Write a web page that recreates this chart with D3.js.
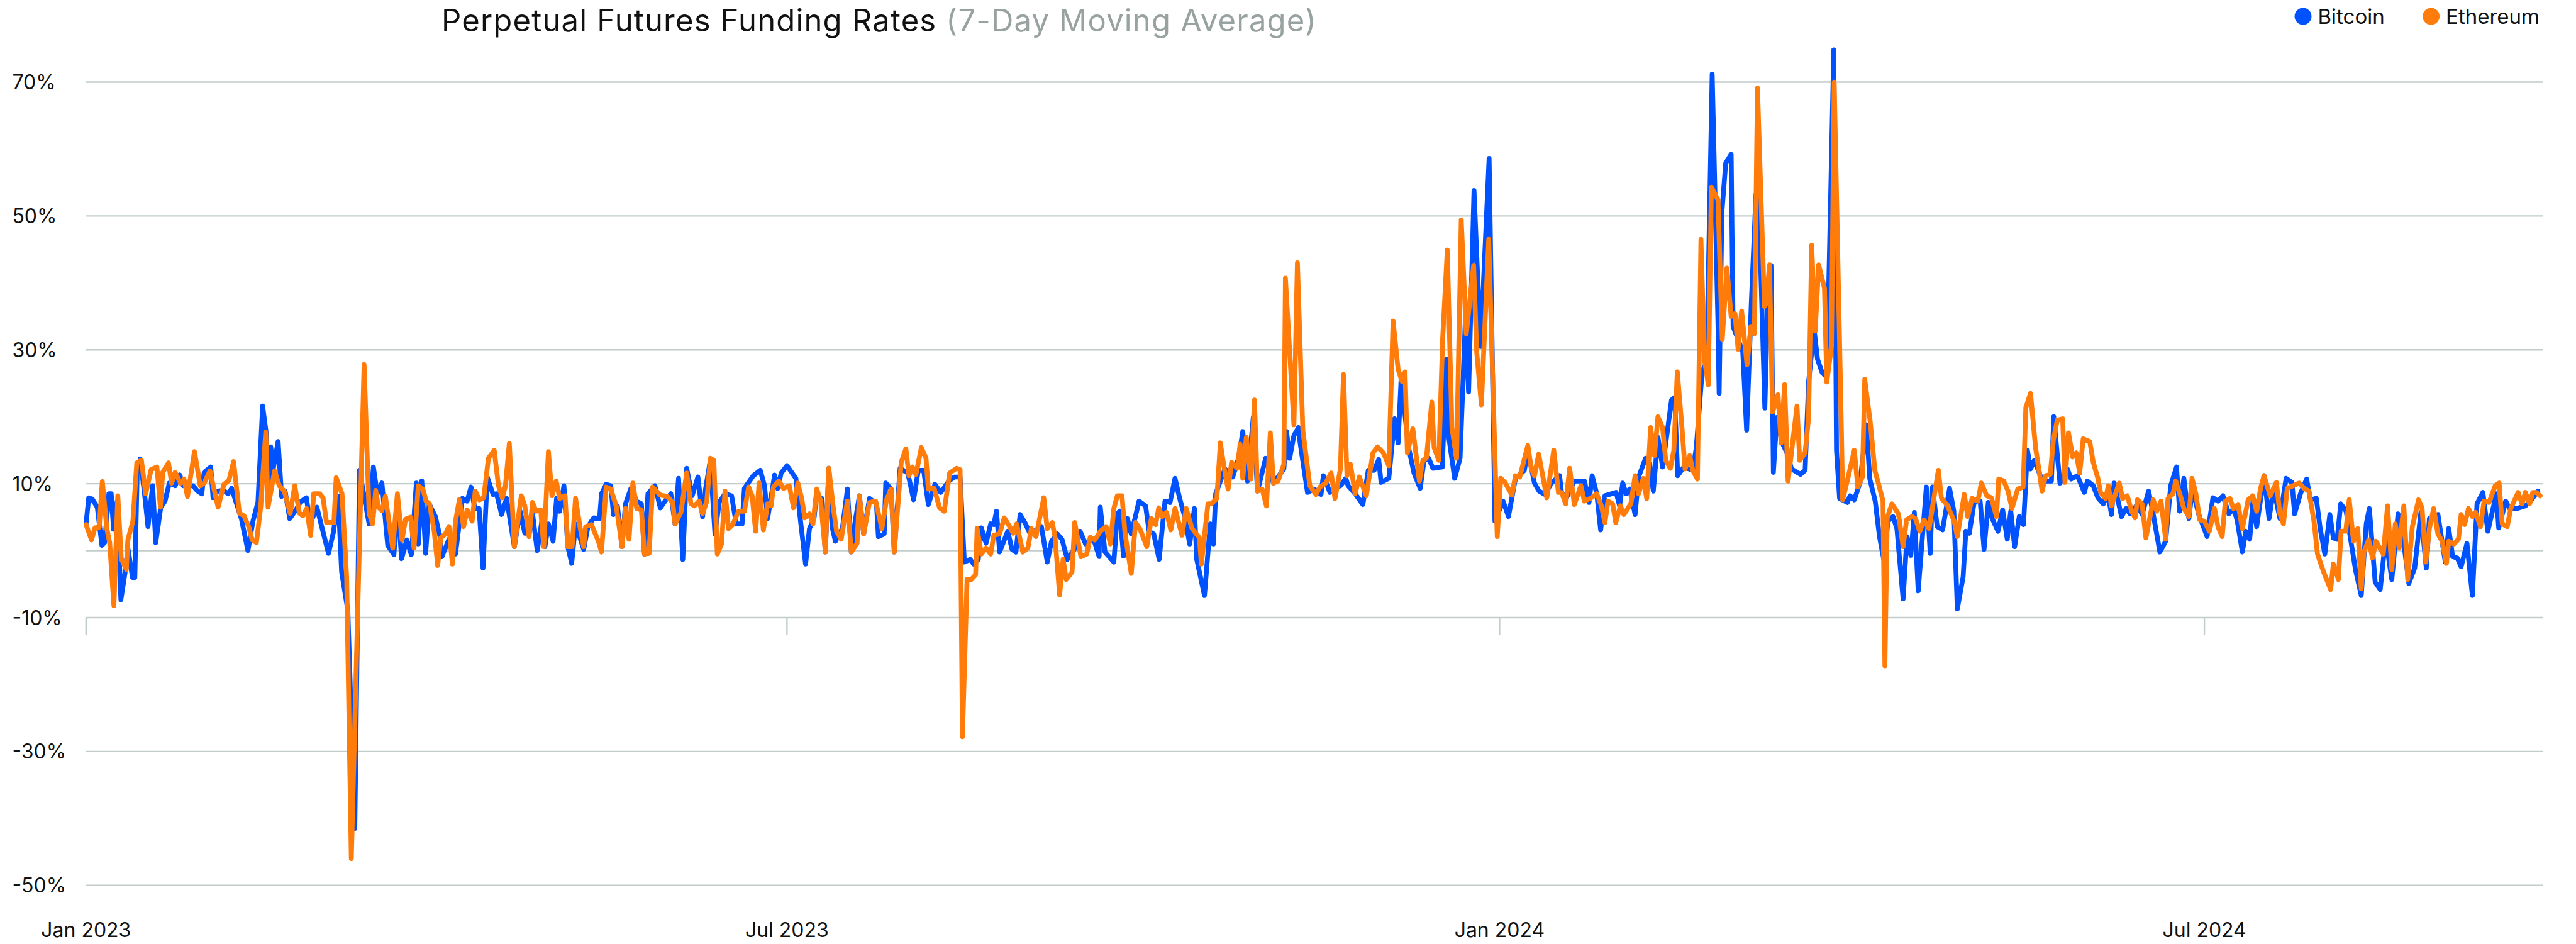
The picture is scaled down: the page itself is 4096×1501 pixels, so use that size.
<!DOCTYPE html>
<html>
<head>
<meta charset="utf-8">
<script src="https://cdn.jsdelivr.net/npm/d3@7"></script>
<style>
  body { margin: 0; background: #fff; }
  svg { display: block; font-family: Inter, "Noto Sans", sans-serif; }
</style>
</head>
<body>
<div id="chart"></div>
<script>
// ---- data ([day since 2023-01-01, rate in %]) ----
const startDate = Date.UTC(2023, 0, 1);
const lastDay = 634.4;
const yTicks = [70, 50, 30, 10, -10, -30, -50];
const xTicks = ["2023-01-01", "2023-07-01", "2024-01-01", "2024-07-01"];
const seriesNames = ["Bitcoin", "Ethereum"];
const seriesColors = ["#0052ff", "#ff7c0a"];

const bitcoin = [
  [0,4.0],[0.7,7.9],[1.6,7.7],[2.9,6.5],[4.1,0.8],[4.8,1.2],[5.9,8.5],[6.5,8.5],[7.1,3.2],[8.0,7.3],[9.0,-7.3],[10.2,-2.8],[10.8,0.4],[12.0,-4.0],[12.6,-4.0],[13.2,11.7],[14.0,13.7],[15.1,8.5],[16.0,3.6],[17.2,9.7],[18.0,1.2],[19.3,6.5],[20.4,7.4],[21.5,10.1],[23.0,9.7],[24.2,11.3],[25.1,9.7],[27.6,9.7],[28.8,8.9],[29.9,8.5],[30.5,11.7],[32.2,12.5],[32.8,7.9],[34.0,8.9],[35.5,9.0],[36.7,8.5],[37.6,9.3],[40.1,4.8],[41.8,0.0],[43.1,4.4],[44.4,7.3],[45.6,21.6],[46.5,17.7],[47.1,7.3],[47.7,15.5],[48.3,12.1],[49.6,16.3],[50.5,8.1],[51.4,8.9],[52.6,4.8],[54.1,6.0],[55.4,7.3],[56.9,7.9],[57.9,4.0],[59.6,6.5],[61.2,2.8],[62.6,-0.4],[63.9,2.8],[65.1,8.1],[66.0,-3.2],[67.6,-8.9],[69.4,-41.5],[70.6,12.0],[73.1,4.0],[74.2,12.5],[75.2,8.5],[76.4,10.1],[77.9,0.8],[79.5,-0.6],[80.4,7.3],[81.5,-1.2],[82.8,1.6],[84.0,-0.6],[85.3,10.1],
  [85.8,1.0],[86.7,10.4],[87.7,-0.4],[88.6,7.0],[90.2,5.1],[91.4,2.1],[91.9,-0.9],[93.7,1.7],[95.4,-0.5],[97.2,7.8],[98.4,7.4],[99.4,9.5],[100.4,6.3],[101.5,6.3],[102.5,-2.6],[103.6,11.0],[105.1,8.4],[106.0,8.5],[107.3,5.4],[108.6,7.8],[110.6,0.6],[112.1,5.9],[113.3,2.6],[114.4,2.6],[115.3,5.5],[116.5,0.0],[117.7,4.4],[118.5,0.6],[119.4,4.0],[120.6,1.4],[121.5,7.8],[122.3,5.9],[123.4,9.7],[124.4,0.6],[125.4,-1.9],[126.4,4.0],[128.5,0.2],[129.6,3.6],[131.1,4.9],[132.6,4.8],[133.1,8.5],[134.3,9.9],[135.5,9.7],[136.2,5.4],[137.2,6.7],[138.4,0.6],[139.3,7.0],[140.7,9.3],[142.2,7.4],[143.4,7.0],[144.2,-0.5],[145.1,8.5],[146.9,9.7],[148.3,6.4],[149.5,7.4],[151.0,8.5],[152.1,4.0],[153.0,10.8],[154.1,-1.3],[155.1,12.3],[156.5,8.2],[158.0,11.0],[159.2,5.1],[160.0,9.3],[161.2,13.5],[162.4,2.5],[163.5,7.2],[165.0,8.5],[166.7,8.2],[167.9,4.0],[169.4,4.0],[170.0,9.3],[172.3,11.2],[174.1,12.0],[175.2,9.7],
  [176.0,4.8],[177.8,11.3],[178.6,9.3],[179.5,11.6],[181.0,12.7],[183.3,10.8],[184.5,4.4],[185.8,-2.0],[186.8,3.3],[188.0,4.9],[188.6,8.2],[190.0,7.8],[190.9,-0.2],[191.8,12.3],[192.7,3.4],[193.5,1.4],[195.3,3.3],[196.6,9.2],[197.6,-0.2],[198.5,4.0],[199.7,8.2],[200.8,2.5],[202.3,7.8],[204.1,7.0],[204.6,2.1],[206.1,2.5],[206.5,10.1],[207.9,9.2],[208.7,-0.2],[210.2,12.3],[212.2,11.6],[213.7,7.6],[214.9,12.0],[216.3,12.0],[217.5,6.9],[219.2,9.9],[220.7,8.7],[222.8,10.4],[224.2,11.0],[225.7,11.0],[226.8,-1.7],[228.3,-1.3],[229.2,-2.0],[230.4,-1.3],[231.2,3.4],[232.4,1.1],[233.6,4.0],[234.4,3.9],[235.1,5.9],[235.9,-0.2],[238.0,2.9],[239.1,0.2],[240.1,-0.2],[241.2,5.4],[242.6,4.0],[243.8,2.5],[246.7,3.6],[248.2,-1.7],[249.3,1.4],[250.8,2.5],[252.0,1.7],[253.4,-1.3],[255.2,0.2],[256.7,2.9],[258.1,1.0],[260.2,1.7],[261.6,-0.9],[261.9,6.5],[263.1,-0.2],[265.4,-1.7],
  [266.3,5.5],[266.9,5.9],[267.9,-0.8],[268.9,4.8],[269.9,2.5],[271.9,7.4],[273.6,6.7],[274.5,2.9],[275.7,2.5],[277.1,-1.3],[278.6,7.4],[279.9,7.2],[281.2,10.8],[282.4,7.8],[283.5,5.5],[285.0,1.0],[286.2,6.3],[286.8,-1.3],[288.8,-6.7],[290.3,4.0],[291.1,1.0],[291.7,8.5],[292.9,10.4],[294.1,12.2],[296.1,11.0],[297.6,13.8],[298.7,17.8],[299.9,10.4],[301.4,19.9],[302.5,8.9],[304.6,13.8],[306.6,10.1],[309.3,12.2],[310.0,17.8],[310.8,13.8],[311.9,17.2],[313.1,18.4],[313.5,16.1],[315.4,8.7],[317.1,9.2],[318.9,8.4],[319.5,11.2],[321.2,8.7],[322.4,9.3],[323.9,9.7],[325.3,10.8],[325.9,9.7],[327.7,8.5],[329.7,6.9],[331.1,12.0],[332.6,12.0],[333.8,13.6],[334.4,10.2],[336.4,10.8],[337.9,19.7],[338.8,16.1],[339.6,25.9],[341.4,15.7],[342.9,11.6],[344.5,9.3],[345.5,13.5],[346.7,13.8],[347.8,12.3],[350.2,12.5],[351.3,28.6],[351.9,16.9],[353.4,10.8],[354.8,13.8],[356.2,35.0],[357.0,23.7],
  [358.4,53.8],[360.1,30.5],[362.3,58.6],[363.8,4.4],[365.9,7.4],[367.3,5.1],[369.1,10.8],[371.4,12.0],[372.3,15.0],[374.0,10.1],[375.2,8.9],[376.7,8.4],[378.4,10.1],[380.5,11.2],[381.0,8.7],[382.2,7.8],[384.3,10.4],[386.9,10.4],[388.1,7.2],[388.9,11.2],[390.1,8.5],[391.1,3.1],[392.2,8.2],[395.1,8.7],[396.0,6.7],[396.8,10.1],[397.7,8.5],[398.6,9.2],[400.0,5.4],[400.9,11.0],[402.7,13.8],[403.8,12.9],[404.7,8.9],[405.9,16.9],[407.1,12.5],[409.4,22.5],[410.2,22.9],[411.0,11.2],[412.6,12.5],[414.9,12.0],[415.8,15.4],[417.3,26.7],[418.5,28.2],[419.9,71.2],[421.4,33.9],[421.7,23.5],[422.4,50.5],[423.4,57.9],[424.8,59.2],[425.3,33.5],[427.8,29.7],[428.8,18.0],[430.0,36.9],[431.2,53.2],[432.0,50.9],[433.5,21.3],[434.2,36.5],[435.1,42.6],[435.7,11.7],[436.6,19.9],[438.0,16.1],[439.2,14.6],[440.4,12.2],[442.7,11.4],[443.9,12.0],[444.8,25.2],[446.2,33.1],[447.1,28.6],
  [448.3,26.6],[449.5,25.9],[451.3,74.8],[452.0,15.0],[452.8,7.8],[454.8,7.2],[455.5,8.2],[456.6,7.6],[458.1,10.2],[459.7,18.8],[460.6,10.7],[462.0,7.4],[463.1,2.1],[464.2,-1.3],[465.3,4.4],[466.6,5.1],[467.6,3.3],[469.2,-7.2],[470.2,2.1],[471.2,-0.7],[472.1,5.7],[473.1,-6.0],[475.2,9.5],[476.2,-0.4],[476.8,9.5],[478.0,3.6],[479.4,3.1],[481.2,9.3],[482.3,5.9],[483.2,-8.7],[484.7,-3.9],[485.4,2.9],[486.3,2.6],[487.6,7.4],[489.1,7.4],[490.1,0.2],[491.2,7.2],[492.2,4.8],[493.7,2.9],[494.9,6.1],[496.1,1.7],[497.0,5.9],[498.0,0.6],[499.2,5.1],[500.3,3.9],[501.3,15.0],[502.1,12.2],[503.1,13.5],[504.9,10.8],[505.8,10.4],[507.5,10.4],[508.1,20.0],[509.7,10.1],[510.7,11.2],[511.6,12.2],[512.6,10.7],[514.2,11.2],[516.0,8.7],[516.8,10.4],[518.3,9.7],[519.5,7.9],[520.9,7.0],[522.1,8.5],[523.0,5.4],[523.7,10.1],[525.6,5.1],[526.8,6.3],[527.8,5.5],[529.7,6.9],[530.9,5.4],[532.6,8.9],[533.8,5.4],[535.5,-0.2],[537.0,1.4],
  [538.3,9.7],[539.8,12.5],[540.6,5.9],[541.7,10.8],[543.0,4.8],[543.9,9.3],[545.5,5.5],[547.7,2.1],[549.2,7.9],[550.5,7.4],[551.8,8.2],[553.3,5.5],[554.6,6.3],[555.5,4.4],[556.8,-0.2],[557.7,2.9],[558.7,1.7],[559.5,7.2],[560.5,3.6],[562.4,11.2],[563.7,4.8],[564.9,9.3],[566.5,4.8],[568.1,10.8],[569.6,10.2],[570.3,5.5],[571.8,8.5],[573.4,10.7],[574.4,7.6],[575.9,7.8],[576.9,3.3],[578.1,-0.5],[579.4,5.4],[580.3,1.9],[581.3,1.7],[582.2,7.0],[583.6,5.9],[586.0,-2.8],[587.5,-6.7],[588.8,4.0],[589.6,6.3],[591.1,-4.7],[592.4,-5.8],[593.8,1.9],[595.4,-4.3],[597.0,5.5],[598.2,2.5],[599.8,-4.9],[601.3,-2.6],[602.9,5.7],[604.3,-2.6],[605.1,4.8],[607.3,5.4],[609.2,-1.7],[610.1,3.3],[611.1,-0.9],[612.3,-1.1],[613.3,-2.4],[614.8,1.1],[616.2,-6.7],[617.4,7.0],[618.9,8.7],[620.2,2.9],[622.4,8.5],[623.0,3.4],[624.8,7.4],[625.8,6.3],[627.7,6.3],[629.9,6.7],[631.2,7.4],[633.1,8.9]
];

const ethereum = [
  [0.0,3.9],[1.4,1.6],[2.3,3.4],[3.4,3.5],[4.2,10.3],[5.4,3.2],[6.1,1.2],[7.2,-8.2],[8.2,8.2],[9.1,-1.2],[10.4,-2.8],[10.8,1.6],[12.1,4.4],[13.1,13.1],[14.3,13.5],[15.4,8.5],[16.8,12.1],[18.3,12.5],[19.2,6.5],[19.8,11.7],[21.3,13.1],[22.1,10.1],[23.0,11.7],[24.4,10.1],[25.3,10.7],[26.2,8.1],[28.0,14.8],[29.5,9.7],[30.5,10.1],[32.0,11.9],[34.1,6.5],[35.6,9.9],[36.9,10.5],[38.1,13.3],[39.6,5.6],[40.8,5.2],[42.0,3.6],[42.9,1.6],[44.0,1.2],[45.1,6.5],[46.4,17.7],[47.0,6.5],[48.7,11.9],[49.9,9.7],[51.2,8.9],[52.7,5.6],[53.9,9.7],[55.1,5.6],[56.0,5.2],[57.0,6.3],[58.0,2.3],[58.8,8.5],[60.3,8.5],[61.2,7.9],[62.1,4.2],[64.0,4.2],[64.6,10.9],[66.1,8.5],[67.3,-4.0],[68.5,-46.0],[71.8,27.8],[73.1,5.6],[74.0,4.0],[74.8,9.0],[75.5,6.5],[76.4,6.0],[77.3,8.1],[79.2,0.4],[80.4,8.5],[81.6,1.6],[82.5,4.7],[83.8,5.0],[84.7,0.4],
  [85.8,9.7],[87.0,9.2],[87.8,7.4],[88.7,7.0],[89.9,2.9],[90.8,-2.2],[91.6,1.9],[92.8,2.5],[93.7,3.6],[94.6,-2.0],[95.4,4.4],[96.4,7.6],[97.5,3.6],[98.4,6.1],[99.7,4.4],[100.5,8.9],[101.6,7.6],[102.7,7.9],[103.9,13.8],[105.4,15.0],[106.5,9.7],[107.5,7.9],[108.3,9.7],[109.3,16.0],[110.6,0.6],[112.4,8.2],[113.3,6.7],[114.4,2.1],[115.3,7.2],[116.2,5.9],[117.4,6.1],[118.2,0.6],[119.4,14.8],[120.3,8.2],[121.4,10.4],[122.3,7.8],[123.7,8.2],[124.4,0.6],[125.5,0.6],[126.4,7.8],[127.6,3.4],[128.5,0.6],[129.0,3.6],[130.5,3.9],[132.3,1.4],[133.1,-0.2],[134.3,9.5],[135.5,9.2],[136.9,6.7],[138.4,0.6],[139.3,6.3],[140.2,1.7],[141.2,10.1],[142.2,6.3],[143.4,6.1],[144.2,-0.5],[145.4,-0.4],[146.3,9.5],[148.3,8.3],[150.1,8.1],[151.5,7.2],[152.1,4.0],[153.6,5.7],[155.1,11.6],[156.2,7.0],[157.1,6.7],[158.3,7.4],[159.2,5.5],[160.3,7.4],[161.2,13.8],[162.1,13.5],[163.0,-0.5],[164.1,1.0],[165.0,8.9],[165.9,3.3],[167.0,3.9],[168.5,5.9],[170.0,5.9],[171.1,9.5],[172.0,8.2],[172.9,2.9],[173.8,10.1],[174.9,3.1],
  [176.0,7.0],[176.9,6.7],[177.5,9.5],[178.9,10.4],[180.1,9.3],[181.6,9.7],[182.7,6.4],[183.8,10.1],[184.8,7.8],[185.6,4.9],[186.8,5.5],[187.7,4.0],[188.7,9.2],[189.7,7.4],[190.9,-0.2],[191.8,12.3],[192.9,6.7],[193.8,2.9],[195.0,1.7],[196.6,7.4],[197.6,-0.2],[199.1,1.1],[199.7,8.2],[200.8,2.5],[202.3,7.2],[203.9,7.4],[205.5,3.3],[206.7,7.6],[207.9,9.2],[208.7,-0.2],[210.5,13.2],[211.7,15.2],[212.5,11.2],[213.4,12.5],[214.3,11.4],[215.7,15.4],[216.9,13.8],[217.5,9.2],[219.0,9.3],[220.4,6.4],[221.6,5.9],[223.0,11.6],[224.8,12.3],[225.7,12.1],[226.3,-27.8],[227.5,-4.3],[228.6,-4.3],[229.7,-3.6],[230.1,3.3],[231.2,-0.5],[232.4,0.4],[233.6,-0.5],[234.4,2.3],[235.9,2.5],[237.1,4.9],[238.5,3.6],[239.4,2.6],[240.3,4.0],[241.9,-0.2],[243.2,0.4],[244.1,3.3],[245.3,2.1],[247.3,7.9],[248.2,3.3],[249.5,4.2],[250.2,2.1],[251.4,-6.6],[252.3,-1.3],[253.1,-4.3],[254.6,-3.2],[255.3,4.2],[256.9,-0.9],[258.4,-0.5],[259.3,2.0],[260.5,1.6],[261.9,2.9],[263.4,3.6],[264.5,1.0],[265.4,6.3],
  [266.3,8.2],[267.5,8.2],[268.3,2.5],[269.9,-3.4],[271.0,4.2],[272.1,3.3],[273.9,0.6],[275.1,4.8],[276.2,3.9],[277.0,6.4],[277.9,5.1],[279.0,5.7],[280.1,3.1],[281.2,6.3],[283.0,2.3],[284.1,6.3],[285.6,3.3],[287.5,1.9],[288.0,-2.0],[289.7,7.0],[290.6,7.0],[292.0,7.8],[292.9,16.1],[293.8,12.7],[294.9,9.2],[295.8,13.2],[297.3,12.3],[298.0,15.9],[298.7,10.8],[299.6,16.9],[300.8,10.7],[301.7,22.5],[302.5,8.9],[303.7,9.2],[304.8,6.7],[305.8,17.6],[306.6,10.1],[307.8,10.4],[309.3,12.9],[309.7,40.7],[311.9,18.8],[312.8,43.0],[314.2,18.0],[316.0,9.7],[317.6,8.4],[318.6,9.5],[320.1,10.1],[321.5,11.6],[322.5,7.8],[323.9,12.2],[324.7,26.3],[325.6,11.2],[326.5,12.9],[327.7,8.5],[328.8,11.0],[330.6,8.2],[332.3,14.6],[333.5,15.5],[335.0,14.6],[336.4,12.7],[337.5,34.3],[338.8,27.1],[339.8,25.3],[340.6,26.7],[341.2,14.6],[342.6,18.2],[344.3,10.4],[345.2,13.5],[346.1,13.8],[347.5,22.2],[348.1,15.4],[349.3,13.5],[350.3,31.6],[351.5,44.9],[352.7,18.4],[353.9,13.8],[355.1,49.4],[356.4,32.4],
  [358.3,42.6],[359.1,29.7],[360.3,21.8],[362.2,46.5],[364.4,2.1],[365.3,10.8],[366.4,10.2],[368.2,8.3],[369.1,11.2],[370.2,11.0],[372.3,15.7],[373.2,12.2],[374.0,11.2],[375.1,14.4],[377.2,7.9],[379.0,15.0],[380.2,8.7],[381.0,8.7],[382.1,7.0],[383.1,12.3],[384.3,6.9],[386.0,9.7],[386.9,7.4],[388.4,7.8],[390.1,8.5],[391.3,6.7],[392.2,4.2],[393.0,7.4],[394.2,7.0],[395.0,4.2],[396.2,6.7],[397.1,5.4],[398.9,7.0],[400.0,11.2],[400.9,8.5],[402.1,10.8],[403.0,7.8],[404.0,18.4],[405.0,14.2],[405.9,20.0],[407.1,18.4],[407.9,13.5],[409.1,12.3],[410.0,15.0],[410.9,26.7],[412.0,19.1],[412.9,12.2],[414.1,14.2],[414.9,12.0],[416.1,10.7],[417.0,46.5],[417.9,28.6],[418.9,24.8],[419.7,54.3],[421.4,52.4],[422.5,31.6],[423.7,42.2],[424.8,35.0],[425.8,35.4],[426.6,30.1],[427.5,35.8],[428.9,27.8],[429.9,33.5],[430.8,32.4],[431.6,69.1],[433.4,36.5],[433.9,36.9],[434.7,42.7],[435.5,20.7],[436.9,23.3],[437.7,16.1],[438.6,24.8],[439.5,10.4],[441.8,21.6],[442.5,13.5],[443.9,14.6],[444.8,19.9],[445.6,45.6],[446.5,32.8],[447.4,42.7],
  [448.9,39.2],[449.5,25.2],[450.7,30.5],[451.4,70.0],[453.2,19.9],[453.6,7.6],[454.9,10.7],[456.6,15.0],[457.5,9.5],[458.7,11.0],[459.3,25.6],[460.7,19.3],[461.9,12.0],[462.8,10.1],[464.0,7.4],[464.5,-17.2],[465.1,4.9],[466.3,7.0],[468.0,5.5],[469.2,0.6],[470.1,4.6],[471.5,5.1],[472.4,4.8],[473.5,2.9],[474.6,4.6],[475.9,3.3],[478.3,12.0],[479.1,7.8],[480.6,6.8],[482.4,4.4],[483.2,2.1],[485.0,8.4],[485.9,5.1],[487.0,7.8],[488.5,7.4],[489.4,10.1],[490.8,8.2],[492.0,7.9],[493.3,5.1],[493.9,10.7],[495.2,10.4],[496.3,8.9],[497.3,6.3],[498.8,9.2],[500.2,9.5],[500.9,21.4],[502.1,23.5],[503.4,15.4],[505.1,8.9],[506.0,11.2],[507.2,11.4],[508.0,16.5],[509.0,19.5],[510.4,19.7],[511.0,10.2],[511.9,17.6],[513.0,14.0],[513.9,14.6],[514.8,11.6],[515.7,16.7],[517.4,16.3],[518.3,13.2],[519.5,10.8],[520.2,8.7],[521.5,7.8],[522.2,9.7],[523.0,6.7],[525.0,10.1],[525.9,7.8],[527.1,8.2],[528.2,5.9],[529.1,4.9],[529.7,7.6],[530.9,7.0],[531.9,1.9],[533.8,7.6],[534.7,5.9],[535.8,7.4],[537.0,1.7],
  [537.6,7.8],[538.9,8.5],[539.6,10.4],[540.8,8.2],[541.7,6.3],[543.0,5.1],[543.8,10.8],[544.8,8.5],[545.8,4.6],[547.0,4.4],[548.3,2.9],[549.6,6.3],[550.5,3.6],[551.6,2.1],[552.4,7.4],[553.6,7.8],[554.5,6.3],[555.7,6.9],[556.8,3.3],[558.3,7.6],[559.5,8.2],[560.5,5.9],[561.5,9.3],[562.4,11.2],[564.0,8.2],[565.6,10.2],[566.5,5.5],[567.4,4.0],[568.4,9.3],[571.5,10.1],[572.8,9.3],[574.0,8.9],[575.3,4.4],[576.2,-0.5],[577.8,-3.2],[579.6,-5.8],[580.3,-2.0],[581.6,-4.3],[582.3,2.9],[583.5,2.9],[584.4,7.6],[585.5,1.4],[586.6,3.3],[587.5,-5.7],[588.2,-0.2],[589.4,1.6],[590.4,-1.1],[591.3,1.4],[593.2,-0.5],[594.3,6.7],[595.4,-2.8],[596.3,4.0],[597.3,0.4],[598.5,6.7],[599.5,-4.3],[600.7,3.6],[602.3,7.6],[603.2,6.4],[604.2,-1.7],[605.1,3.3],[606.2,6.3],[607.3,2.5],[608.4,1.4],[609.5,-1.9],[610.1,1.4],[611.4,1.0],[612.6,1.7],[613.3,5.4],[614.2,3.9],[615.2,6.3],[616.2,5.1],[617.0,5.7],[618.3,3.6],[619.2,7.4],[620.5,7.2],[622.1,9.7],[623.1,10.1],[623.9,4.0],[625.2,3.6],[626.1,6.3],[628.0,8.7],[629.0,7.0],[629.9,8.7],[631.0,7.0],[631.8,8.7],[632.7,8.7],[633.7,8.2]
];

// ---- layout ----
const width = 4096, height = 1501;
const DAY = 86400000;
const dayToDate = d => new Date(startDate + d * DAY);
const gridColor = "#c2cdcb";

const svg = d3.select("#chart")
  .append("svg")
    .attr("width", width)
    .attr("height", height);

svg.append("rect")
  .attr("width", width)
  .attr("height", height)
  .attr("fill", "#fff");

const x = d3.scaleUtc()
  .domain([dayToDate(0), dayToDate(lastDay)])
  .range([136.8, 4043.3]);

const y = d3.scaleLinear()
  .domain([-50, 70])
  .range([1407.8, 130.5]);

// gridlines (plus the zero line)
svg.append("g")
  .selectAll("line")
  .data(yTicks.concat([0]))
  .enter()
  .append("line")
    .attr("x1", x.range()[0])
    .attr("x2", x.range()[1])
    .attr("y1", d => y(d))
    .attr("y2", d => y(d))
    .attr("stroke", gridColor)
    .attr("stroke-width", 2.4);

// y labels, left aligned
svg.append("g")
  .selectAll("text")
  .data(yTicks)
  .enter()
  .append("text")
    .attr("x", 19.4)
    .attr("y", d => y(d))
    .attr("dy", "0.36em")
    .attr("font-size", 32)
    .attr("fill", "#111")
    .text(d => d + "%");

// x axis: ticks hang under the -10% line, labels at the bottom
const xDates = xTicks.map(s => new Date(s + "T00:00:00Z"));
const xAxis = svg.append("g");
xAxis.selectAll("line")
  .data(xDates)
  .enter()
  .append("line")
    .attr("x1", d => x(d))
    .attr("x2", d => x(d))
    .attr("y1", y(-10))
    .attr("y2", y(-10) + 28)
    .attr("stroke", gridColor)
    .attr("stroke-width", 2.4);
xAxis.selectAll("text")
  .data(xDates)
  .enter()
  .append("text")
    .attr("x", d => x(d))
    .attr("y", 1489.5)
    .attr("text-anchor", "middle")
    .attr("font-size", 32)
    .attr("fill", "#111")
    .text(d3.utcFormat("%b %Y"));

// series lines, ethereum drawn on top
const line = d3.line()
  .x(d => x(dayToDate(d[0])))
  .y(d => y(d[1]));

[bitcoin, ethereum].forEach((s, i) => {
  svg.append("path")
    .datum(s)
    .attr("fill", "none")
    .attr("stroke", seriesColors[i])
    .attr("stroke-width", 7.7)
    .attr("stroke-linejoin", "round")
    .attr("stroke-linecap", "round")
    .attr("d", line);
});

// title: fixed size, spread with letter-spacing to the reference width
const titleText = ["Perpetual Futures Funding Rates ", "(7-Day Moving Average)"];
const title = svg.append("text")
  .attr("x", 702)
  .attr("y", 50)
  .attr("font-size", 49)
  .attr("fill", "#111");
title.append("tspan").text(titleText[0]);
title.append("tspan").attr("fill", "#98a3a1").text(titleText[1]);
const tw = title.node().getComputedTextLength();
const nChars = titleText.join("").length;
title.attr("letter-spacing", Math.max(-1.5, Math.min(2, (1392 - tw) / nChars)));

// legend
const legendX = [3662, 3865.6];
const legend = svg.append("g")
  .selectAll("g")
  .data(seriesNames)
  .enter()
  .append("g");
legend.append("circle")
  .attr("cx", (d, i) => legendX[i])
  .attr("cy", 26)
  .attr("r", 13.5)
  .attr("fill", (d, i) => seriesColors[i]);
legend.append("text")
  .attr("x", (d, i) => legendX[i] + 23.5)
  .attr("y", 37.9)
  .attr("font-size", 33)
  .attr("fill", "#111")
  .text(d => d);
</script>
</body>
</html>
